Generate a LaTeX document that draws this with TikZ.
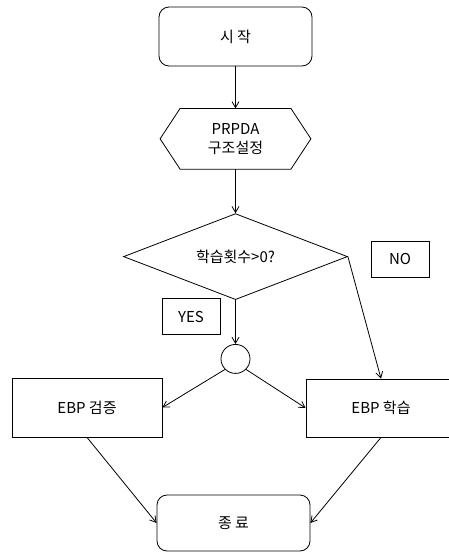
\documentclass[tikz,border=0pt]{standalone}
\usepackage{fontspec}
\setmainfont{Noto Sans CJK KR}
\usetikzlibrary{shapes.geometric,arrows.meta,positioning}

\tikzset{
  flow/.style={align=center,font=\fontsize{15}{19}\selectfont,inner sep=0pt},
  term/.style={flow,draw=black,rounded corners=10pt},
  box/.style={flow,draw=black},
  tag/.style={flow,draw=black,minimum width=58pt,minimum height=36pt},
  arr/.style={->,>={Straight Barb[length=6pt,width=7pt]},line width=0.8pt,shorten >=0pt}
}

\begin{document}
\begin{tikzpicture}[x=1pt,y=-1pt,line width=0.8pt]
\clip (0,0) rectangle (449,552);
%start
\node[term,minimum width=153pt,minimum height=59pt](start) at (235.5,36.5){시 작};
\node[below=42pt of start,flow,minimum width=150pt,minimum height=60pt](PRPDA){PRPDA\\구조설정};
\draw (PRPDA.west) -- ([xshift=20pt]PRPDA.north west) -- ([xshift=-20pt]PRPDA.north east) -- (PRPDA.east) -- ([xshift=-20pt]PRPDA.south east) -- ([xshift=20pt]PRPDA.south west) -- cycle;
% Decision
\node[below=44pt of PRPDA,flow,diamond,shape aspect=2.6,draw=black,minimum width=224pt,minimum height=86pt](D){학습횟수>0?};
\node[tag](YES) at (191,316.5){YES};
\node[tag](NO) at (400,259){NO};
\node[below=44pt of D,flow,circle,draw=black,minimum size=29pt](J){};
% Boxes
\node[box,minimum width=150pt,minimum height=59pt](val) at (87,407.5){EBP 검증};
\node[box,minimum width=150pt,minimum height=58pt](train) at (381,408){EBP 학습};
\node[term,minimum width=153pt,minimum height=56pt](end) at (233.5,523){종 료};
% Arrows
\draw[arr] (start.south) -- (PRPDA.north);
\draw[arr] (PRPDA.south) -- (D.north);
\draw[arr] (D.south) -- (J.north);
\draw[arr] (J.225) -- (val.east);
\draw[arr] (J.315) -- (train.west);
\draw[arr] (D.east) -- (train.north);
\draw[arr] (val.south) -- (end.west);
\draw[arr] (train.south) -- (end.east);
\end{tikzpicture}
\end{document}
